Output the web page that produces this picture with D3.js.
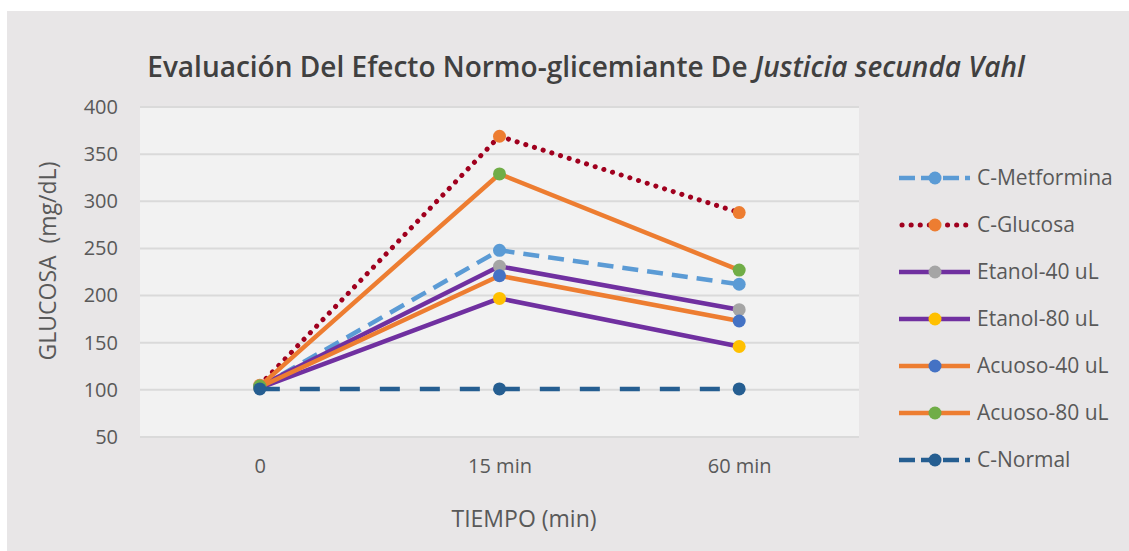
<!DOCTYPE html>
<html>
<head>
<meta charset="utf-8">
<script src="https://cdn.jsdelivr.net/npm/d3@7"></script>
<style>
  body { margin: 0; background: #fff; }
  svg { display: block; font-family: "Open Sans", sans-serif; }
</style>
</head>
<body>
<svg id="chart" width="1129" height="551"></svg>
<script>
// Categories, series and ticks
const times = ["0", "15 min", "60 min"];
const seriesNames = ["C-Metformina", "C-Glucosa", "Etanol-40 uL", "Etanol-80 uL", "Acuoso-40 uL", "Acuoso-80 uL", "C-Normal"];
const metformina = [103, 248, 212];
const glucosa = [105, 369, 288];
const etanol40 = [104, 231, 185];
const etanol80 = [102, 197, 146];
const acuoso40 = [103, 221, 173];
const acuoso80 = [104, 329, 227];
const normal = [101, 101, 101];
const yTicks = [50, 100, 150, 200, 250, 300, 350, 400];

// styles for each series (line colour, marker colour, dash)
const styles = [
  { line: "#5b9bd5", marker: "#5b9bd5", dash: "16,9", cap: "butt" },
  { line: "#a0001e", marker: "#ed7d31", dash: "0.1,9", cap: "round" },
  { line: "#7030a0", marker: "#a5a5a5", dash: null, cap: "butt" },
  { line: "#7030a0", marker: "#ffc000", dash: null, cap: "butt" },
  { line: "#ed7d31", marker: "#4472c4", dash: null, cap: "butt" },
  { line: "#ed7d31", marker: "#70ad47", dash: null, cap: "butt" },
  { line: "#255e91", marker: "#255e91", dash: "20,20", cap: "butt" }
];
const allValues = [metformina, glucosa, etanol40, etanol80, acuoso40, acuoso80, normal];

const series = seriesNames.map((name, i) => ({ name, values: allValues[i], style: styles[i] }));

const svg = d3.select("#chart");

// chart background
svg.append("rect")
  .attr("x", 7).attr("y", 11)
  .attr("width", 1122).attr("height", 540)
  .attr("fill", "#e8e6e7");

const plot = { left: 140, right: 859, top: 107, bottom: 437 };

svg.append("rect")
  .attr("x", plot.left).attr("y", plot.top)
  .attr("width", plot.right - plot.left).attr("height", plot.bottom - plot.top)
  .attr("fill", "#f2f2f2");

const x = d3.scalePoint()
  .domain(times)
  .range([plot.left, plot.right])
  .padding(0.5);

const y = d3.scaleLinear()
  .domain([50, 400])
  .range([plot.bottom, plot.top]);

// gridlines
svg.append("g")
  .selectAll("line")
  .data(yTicks)
  .enter().append("line")
  .attr("x1", plot.left).attr("x2", plot.right)
  .attr("y1", d => y(d)).attr("y2", d => y(d))
  .attr("stroke", "#dadada")
  .attr("stroke-width", 2);

// y axis
const yAxis = svg.append("g")
  .attr("transform", `translate(${plot.left - 22},0)`)
  .call(d3.axisLeft(y).tickValues(yTicks).tickSize(0).tickPadding(0));
yAxis.select(".domain").remove();
yAxis.selectAll("text")
  .attr("fill", "#595959")
  .style("font-size", "20px")
  .style("font-family", "'Open Sans', sans-serif");

// x axis
const xAxis = svg.append("g")
  .attr("transform", `translate(0,${plot.bottom + 22})`)
  .call(d3.axisBottom(x).tickSize(0).tickPadding(0));
xAxis.select(".domain").remove();
xAxis.selectAll("text")
  .attr("fill", "#595959")
  .style("font-size", "20px")
  .style("font-family", "'Open Sans', sans-serif");

// lines
const line = d3.line()
  .x((d, i) => x(times[i]))
  .y(d => y(d));

series.forEach(s => {
  svg.append("path")
    .datum(s.values)
    .attr("d", line)
    .attr("fill", "none")
    .attr("stroke", s.style.line)
    .attr("stroke-width", s.style.cap === "round" ? 5 : 4.5)
    .attr("stroke-linecap", s.style.cap)
    .attr("stroke-linejoin", "round")
    .attr("stroke-dasharray", s.style.dash);

  svg.append("g")
    .selectAll("circle")
    .data(s.values)
    .enter().append("circle")
    .attr("cx", (d, i) => x(times[i]))
    .attr("cy", d => y(d))
    .attr("r", 6.5)
    .attr("fill", s.style.marker);
});

// title
const title = svg.append("text")
  .attr("x", 586)
  .attr("y", 77)
  .attr("text-anchor", "middle")
  .attr("fill", "#404040")
  .style("font-size", "28px")
  .style("font-weight", 600);
title.append("tspan").text("Evaluación Del Efecto Normo-glicemiante De ");
title.append("tspan").style("font-style", "italic").text("Justicia secunda Vahl");

// axis titles
svg.append("text")
  .attr("transform", "translate(56,261) rotate(-90)")
  .attr("text-anchor", "middle")
  .attr("fill", "#595959")
  .style("font-size", "23px")
  .attr("xml:space", "preserve")
  .text("GLUCOSA  (mg/dL)");

svg.append("text")
  .attr("x", 524)
  .attr("y", 527)
  .attr("text-anchor", "middle")
  .attr("fill", "#595959")
  .style("font-size", "23px")
  .text("TIEMPO (min)");

// legend
const legend = svg.append("g")
  .attr("transform", "translate(899,178)");

series.forEach((s, i) => {
  const g = legend.append("g").attr("transform", `translate(0,${i * 47})`);
  g.append("line")
    .attr("x1", s.style.cap === "round" ? 3 : 0)
    .attr("x2", 71)
    .attr("y1", 0).attr("y2", 0)
    .attr("stroke", s.style.line)
    .attr("stroke-width", s.style.cap === "round" ? 5 : 4.5)
    .attr("stroke-linecap", s.style.cap)
    .attr("stroke-dasharray", s.style.dash ? (s.style.cap === "round" ? "0.1,9" : "16,6") : null);
  g.append("circle")
    .attr("cx", 36).attr("cy", 0).attr("r", 6.5)
    .attr("fill", s.style.marker);
  g.append("text")
    .attr("x", 78)
    .attr("y", 0)
    .attr("dy", "0.35em")
    .attr("fill", "#595959")
    .style("font-size", "21px")
    .text(s.name);
});
</script>
</body>
</html>
